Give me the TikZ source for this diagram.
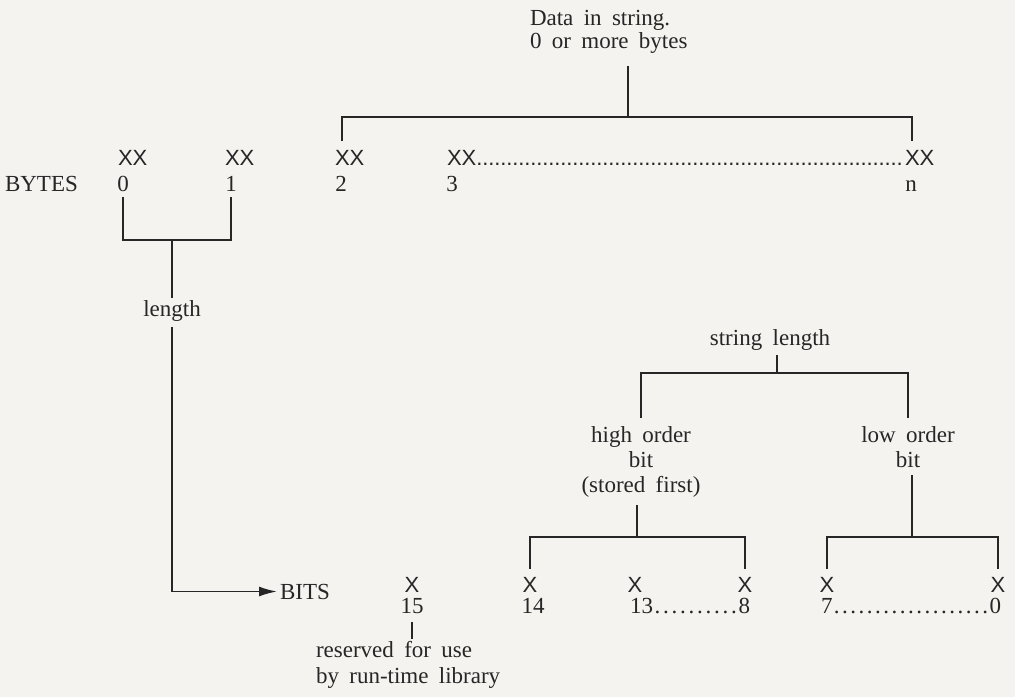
\documentclass[tikz,border=0pt]{standalone}
\usepackage{fontspec}
\setmainfont{Liberation Serif}[WordSpace=1.8]
\newfontfamily\xfont{Liberation Sans}
\usetikzlibrary{arrows.meta}
\definecolor{ink}{HTML}{262626}
\definecolor{paper}{HTML}{F4F3F0}
\newcommand\dotrunto[2]{\hbox to #1{\xleaders\hbox to #2{\hss.\hss}\hfill}}
\newcommand\dotfillby[1]{\xleaders\hbox to #1{\hss.\hss}\hfill}
\begin{document}
\begin{tikzpicture}[x=0.5pt,y=-0.5pt,color=ink,line width=0.9pt,
  lbl/.style={inner sep=0pt,outer sep=0pt,font=\fontsize{11.5}{13}\selectfont},
  xx/.style={inner sep=0pt,outer sep=0pt,font=\xfont\fontsize{11}{12}\selectfont},
  tip/.style={-{Latex[length=9pt,width=5pt]}}]
\fill[paper] (0,0) rectangle (1015,697);
\useasboundingbox (0,0) rectangle (1015,697);

% ---- top: data in string
\node[lbl,anchor=north west,align=left,font=\fontsize{11.5}{11.5}\selectfont] (data) at (530,10) {Data in string.\\0 or more bytes};
\node[xx,anchor=base west] (xx0) at (118,165) {XX};
\node[xx,anchor=base west] (xx1) at (225,165) {XX};
\node[xx,anchor=base west] (xx2) at (335,165) {XX};
\node[xx,anchor=base west] (xx3) at (447,165) {XX};
\node[xx,anchor=base west] (xxn) at (905,165) {XX};
\node[xx,anchor=base west] (xdots) at (xx3.base east) {\dotrunto{213pt}{3pt}};

\node[lbl,anchor=base west] (bytes) at (5,191) {BYTES};
\node[lbl,anchor=base] (b0) at (123,191) {0};
\node[lbl,anchor=base] (b1) at (231,191) {1};
\node[lbl,anchor=base] (b2) at (341,191) {2};
\node[lbl,anchor=base] (b3) at (452,191) {3};
\node[lbl,anchor=base] (bn) at (911,191) {n};

\coordinate (tj) at (628,117);
\draw[shorten >=6.5pt] (tj) -- (tj |- data.south);
\draw ([xshift=-3.7pt,yshift=4.5pt]xx2.north) |- (tj) -| ([xshift=-3.7pt,yshift=4.5pt]xxn.north);

% ---- length bracket
\coordinate (bj) at (172,240);
\draw ([yshift=-3pt]b0.south) |- (bj) -| ([yshift=-3pt]b1.south);
\node[lbl,anchor=base] (len) at (172,316) {length};
\draw[shorten >=1pt] (bj) -- (len.north);
\node[lbl,anchor=base west] (bits) at (280,599) {BITS};
\draw[tip,shorten <=3pt,shorten >=1.5pt] (len.south) |- (bits.west);

% ---- bits
\node[xx,anchor=base] (x15) at (412,592) {X};
\node[xx,anchor=base] (x14) at (530,592) {X};
\node[xx,anchor=base] (x13) at (635,592) {X};
\node[xx,anchor=base] (x8) at (745,592) {X};
\node[xx,anchor=base] (x7) at (827,592) {X};
\node[xx,anchor=base] (x0) at (998,592) {X};

\node[lbl,anchor=base] (n15) at (412,613) {15};
\node[lbl,anchor=base] (n14) at (533,613) {14};
\node[lbl,anchor=base west] (n13) at (630,613) {\hbox to 60pt{13\dotfillby{4pt}8}};
\node[lbl,anchor=base west] (n7) at (821,613) {\hbox to 90pt{7\dotfillby{4pt}0}};

\node[lbl,anchor=north west,align=left] (res) at (316,641) {reserved for use\\by run-time library};
\draw[shorten <=4.5pt,shorten >=1pt] (n15.south) -- (n15.south |- res.north);

% ---- string length tree
\node[lbl,anchor=base] (sl) at (770,345) {string length};
\node[lbl,anchor=north,align=center,font=\fontsize{11.5}{12.5}\selectfont] (ho) at (641,427) {high order\\bit\\(stored first)};
\node[lbl,anchor=north,align=center,font=\fontsize{11.5}{12.5}\selectfont] (lo) at (908,427) {low order\\bit};

\coordinate (slj) at (777,373);
\draw[shorten >=2.5pt] (slj) -- (slj |- sl.south);
\draw ([yshift=4.5pt]ho.north) |- (slj) -| ([yshift=4.5pt]lo.north);

\coordinate (hj) at (637,537);
\coordinate (lj) at (912,537);
\draw[shorten >=3.5pt] (hj) -- (hj |- ho.south);
\draw[shorten >=3.5pt] (lj) -- (lj |- lo.south);
\draw ([yshift=4pt]x14.north) |- (hj) -| ([yshift=4pt]x8.north);
\draw ([yshift=4pt]x7.north) |- (lj) -| ([yshift=4pt]x0.north);
\end{tikzpicture}
\end{document}
